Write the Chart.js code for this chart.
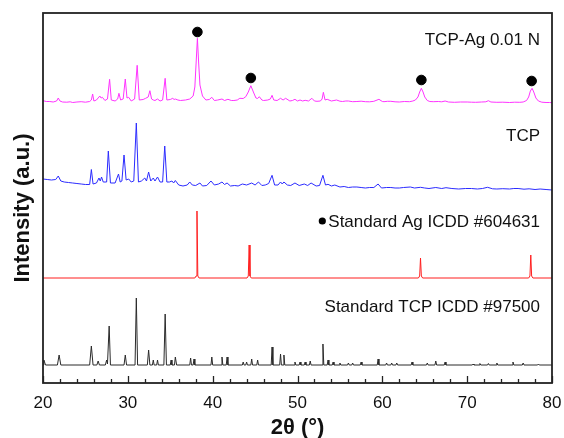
<!DOCTYPE html>
<html>
<head>
<meta charset="utf-8">
<script src="https://cdn.jsdelivr.net/npm/chart.js@4"></script>
<style>
  html, body { margin: 0; padding: 0; background: #fff; }
  canvas { display: block; }
</style>
</head>
<body>
<canvas id="xrd" width="564" height="438"></canvas>
<script>
// 2θ range and x tick labels
const xTicks = [20, 30, 40, 50, 60, 70, 80];

// vertical offset of each pattern (a.u.), bottom to top
const offsetStdTcp = 18;
const offsetStdAg = 105;
const offsetTcp = 193;
const offsetTcpAg = 280;

// Standard TCP ICDD #97500  [2θ, intensity]
const stdTcp = [
  [20, 0], [20.1, 5], [20.3, 0], [21.7, 0], [21.9, 10], [22.1, 0],
  [25.5, 0], [25.7, 19], [25.9, 0], [26.35, 0], [26.5, 4], [26.65, 0], [27.35, 0], [27.5, 5], [27.6, 1], [27.8, 39], [27.95, 0],
  [29.55, 0], [29.7, 10], [29.85, 0], [30.85, 0], [31.0, 67], [31.15, 0],
  [32.3, 0], [32.45, 15], [32.6, 0], [32.9, 0], [33.0, 5], [33.1, 0], [33.4, 0], [33.5, 5], [33.6, 0],
  [34.25, 0], [34.4, 51], [34.55, 0], [35.0, 0], [35.1, 5], [35.2, 0], [35.5, 0], [35.6, 8], [35.75, 0],
  [37.3, 0], [37.4, 7], [37.5, 0], [37.7, 0], [37.8, 6], [37.9, 0],
  [39.8, 0], [39.9, 8], [40.0, 0], [41.0, 0], [41.1, 8], [41.2, 0], [41.6, 0], [41.7, 8], [41.8, 0],
  [43.5, 0], [43.6, 3], [43.7, 0], [43.9, 0], [44.0, 3], [44.1, 0], [44.5, 0], [44.6, 6], [44.7, 0], [45.2, 0], [45.3, 5], [45.4, 0],
  [46.9, 0], [47.0, 18], [47.1, 0], [47.9, 0], [48.0, 11], [48.1, 0], [48.3, 0], [48.4, 10], [48.5, 0],
  [49.6, 0], [49.7, 3], [49.8, 0], [50.2, 0], [50.3, 3], [50.4, 0], [50.8, 0], [50.9, 3], [51.0, 0], [51.4, 0], [51.5, 4], [51.6, 0],
  [52.9, 0], [53.0, 21], [53.1, 0], [53.5, 0], [53.6, 5], [53.7, 0], [54.1, 0], [54.2, 3], [54.3, 0],
  [54.9, 0], [55.0, 2], [55.1, 0], [55.9, 0], [56.0, 2], [56.1, 0], [56.4, 0], [56.5, 2], [56.6, 0], [57.4, 0], [57.5, 3], [57.6, 0],
  [59.4, 0], [59.5, 6], [59.6, 0], [60.4, 0], [60.5, 2], [60.6, 0], [61.0, 0], [61.1, 2], [61.2, 0], [61.6, 0], [61.7, 2], [61.8, 0],
  [63.4, 0], [63.5, 3], [63.6, 0], [65.2, 0], [65.3, 2], [65.4, 0], [66.2, 0], [66.3, 4], [66.4, 0], [67.3, 0], [67.4, 3], [67.5, 0],
  [70.6, 0], [70.7, 1], [70.8, 0], [71.4, 0], [71.5, 1.5], [71.6, 0], [72.4, 0], [72.5, 1.5], [72.6, 0], [73.4, 0], [73.5, 2], [73.6, 0],
  [75.3, 0], [75.4, 3], [75.5, 0], [76.5, 0], [76.6, 2], [76.7, 0], [78.3, 0], [78.4, 1], [78.5, 0], [80, 0]
];

// Standard Ag ICDD #604631
const stdAg = [
  [20, 0], [37.9, 0], [38.05, 2], [38.15, 67], [38.25, 2], [38.4, 0],
  [44.05, 0], [44.2, 2], [44.3, 33], [44.4, 2], [44.55, 0],
  [64.25, 0], [64.4, 2], [64.5, 20], [64.6, 2], [64.75, 0],
  [77.25, 0], [77.4, 2], [77.5, 23], [77.6, 2], [77.75, 0], [80, 0]
];

// measured TCP
const tcp = [
  [20, 11], [20.5, 10.5], [21.0, 10], [21.5, 10.5], [21.8, 14], [22.1, 9], [22.5, 8], [23.0, 7.5], [23.5, 7], [24.0, 6.5], [24.5, 6], [25.0, 5.5],
  [25.5, 5.5], [25.7, 20.5], [25.9, 6], [26.3, 7], [26.6, 12], [26.75, 9], [26.9, 13], [27.1, 8], [27.5, 8], [27.7, 39], [27.95, 7],
  [28.5, 7], [28.9, 16], [29.1, 8], [29.3, 9], [29.55, 35], [29.8, 10], [30.1, 11], [30.4, 8], [30.7, 9], [31.0, 67], [31.25, 8],
  [31.6, 9], [32.0, 12], [32.2, 9], [32.45, 18], [32.7, 9], [33.0, 12], [33.2, 9], [33.5, 13], [33.8, 8], [34.1, 8], [34.35, 44], [34.6, 8],
  [34.9, 8], [35.2, 9], [35.4, 7], [35.6, 9.5], [36.0, 5], [36.5, 4], [37.0, 5], [37.3, 8], [37.6, 5], [38.0, 4.5], [38.5, 7], [38.8, 4],
  [39.3, 4.5], [39.8, 9], [40.2, 5], [40.7, 6], [41.1, 8], [41.4, 5.5], [41.7, 7], [42.1, 4], [42.6, 4.5], [43.0, 4], [43.5, 6], [44.0, 5],
  [44.6, 7], [45.0, 5], [45.4, 8], [45.8, 4.5], [46.2, 5], [46.6, 6.5], [47.0, 14.7], [47.3, 5], [47.7, 5], [48.0, 8], [48.2, 6], [48.4, 8],
  [48.8, 5], [49.2, 4.5], [49.7, 7], [50.2, 4.5], [50.8, 6], [51.2, 4.5], [51.6, 7], [52.2, 4], [52.6, 4.5], [53.0, 14.7], [53.3, 5], [53.6, 5.7],
  [54.0, 4], [54.4, 5], [55.0, 3], [55.5, 3.5], [56.0, 2.5], [56.5, 3], [57.0, 3], [57.5, 2.5], [58.0, 2], [58.5, 2.5], [59.0, 2.5], [59.5, 6],
  [59.9, 2], [60.5, 2.5], [61.0, 2.5], [61.5, 2], [62.0, 2], [62.5, 2.5], [63.3, 3], [63.8, 2], [64.5, 2.7], [65.0, 2], [65.5, 1.5], [66.3, 2.5],
  [67.0, 1.5], [67.5, 2.3], [68.2, 1.5], [69.0, 1], [69.8, 1.5], [70.5, 1.5], [71.2, 1], [71.8, 1.5], [72.4, 2.7], [73.0, 1.2], [73.5, 1],
  [74.2, 1.3], [75.0, 1], [75.5, 1.5], [76.0, 1.5], [76.7, 0.8], [77.3, 1.2], [78.0, 0.5], [78.6, 1], [79.3, 0.5], [80, 0]
];

// measured TCP-Ag 0.01 N
const tcpAg = [
  [20, 2.3], [20.4, 1.5], [20.8, 1.5], [21.2, 1], [21.6, 2], [21.8, 5], [22.0, 2], [22.3, 1], [22.8, 0.8], [23.2, 1.2], [23.5, 0.5], [24.0, 1],
  [24.5, 1.3], [25.0, 0.8], [25.5, 1.5], [25.7, 3], [25.85, 9], [26.0, 2], [26.3, 3], [26.7, 7], [26.85, 5], [27.0, 5.7], [27.3, 2.5], [27.6, 4],
  [27.85, 23.7], [28.05, 3], [28.5, 2], [28.8, 4], [28.95, 9.7], [29.15, 3], [29.45, 4], [29.7, 24], [29.9, 5], [30.1, 5.7], [30.4, 2], [30.8, 4],
  [31.1, 37.7], [31.35, 3], [31.8, 3.5], [32.1, 4.7], [32.4, 6], [32.6, 12.3], [32.8, 4], [33.0, 3], [33.2, 2.5], [33.5, 4], [33.8, 2], [34.1, 3],
  [34.4, 24.7], [34.6, 3], [35.0, 3.5], [35.3, 4.7], [35.45, 3.5], [35.6, 4], [35.9, 3], [36.2, 2.5], [36.8, 3], [37.3, 4], [37.7, 7], [37.9, 16],
  [38.05, 40], [38.2, 64.7], [38.35, 40], [38.5, 18], [38.8, 7], [39.2, 3], [39.6, 3.5], [39.9, 5.7], [40.2, 2.5], [40.6, 3], [41.1, 4], [41.4, 2.5],
  [41.8, 3.7], [42.2, 2.5], [42.5, 2.5], [42.9, 3], [43.2, 4.7], [43.6, 4.5], [43.9, 6.3], [44.2, 11], [44.5, 17.3], [44.8, 11], [45.1, 5], [45.3, 4.5],
  [45.5, 6.3], [45.8, 3], [46.0, 2.5], [46.5, 3], [46.8, 4], [47.0, 7.7], [47.2, 3], [47.6, 2.5], [48.0, 4.7], [48.3, 3], [48.6, 4.7], [49.1, 2],
  [49.4, 2.5], [49.7, 3.7], [50.0, 2], [50.3, 3], [50.6, 2], [50.9, 2.7], [51.3, 2], [51.7, 4.7], [52.0, 2], [52.3, 1.7], [52.7, 2], [52.9, 4],
  [53.05, 10.7], [53.25, 3], [53.5, 3.7], [54.0, 2], [54.3, 2.5], [54.6, 3], [55.0, 1.8], [55.3, 1.5], [55.7, 2], [56.0, 2], [56.5, 1.3], [57.0, 1.5],
  [57.5, 1.8], [58.0, 1.3], [58.5, 1.2], [59.0, 1.7], [59.6, 3.7], [60.0, 1.5], [60.2, 1.3], [60.6, 1.7], [61.0, 1.7], [61.5, 1.2], [62.0, 1], [62.6, 1.5],
  [63.2, 1.3], [63.6, 2], [63.9, 3], [64.2, 6], [64.4, 11], [64.6, 14.7], [64.8, 11], [65.0, 6], [65.3, 2.5], [65.6, 1.5], [66.0, 1.3], [66.6, 1.5],
  [67.0, 1.2], [67.4, 2], [67.8, 1], [68.5, 0.7], [69.2, 1], [70.0, 1], [70.5, 0.8], [71.0, 0.7], [71.7, 1], [72.2, 1.2], [72.5, 2.3], [72.8, 1],
  [73.5, 0.7], [74.2, 0.8], [75.0, 0.5], [75.6, 0.8], [76.2, 0.7], [76.6, 1], [77.0, 2.5], [77.25, 6], [77.45, 12], [77.65, 14.7], [77.85, 11],
  [78.1, 5], [78.4, 2], [78.8, 0.8], [79.3, 0.5], [79.7, 0.5], [80, 0.3]
];

// Ag reflections marked with a dot above the TCP-Ag pattern
const agMarkX = [38.2, 44.5, 64.6, 77.6];
const agMarkY = [351, 305, 303, 302];

const seriesNames = ['Standard TCP ICDD #97500', 'Standard Ag ICDD #604631', 'TCP', 'TCP-Ag 0.01 N'];
const yTitle = 'Intensity (a.u.)';

function shifted(points, offset) {
  return points.map(p => ({ x: p[0], y: p[1] + offset }));
}

const FONT = 'Arial, "Liberation Sans", sans-serif';

// series name labels, y title, inward tick marks and the box round the plot
const decorPlugin = {
  id: 'decor',
  afterDraw(chart) {
    const { ctx, chartArea: a, scales: { x } } = chart;
    ctx.save();

    // inward ticks on the bottom axis
    ctx.strokeStyle = '#222';
    ctx.lineWidth = 1.3;
    for (let v = 20; v <= 80; v += 2) {
      const px = Math.round(x.getPixelForValue(v)) + 0.5;
      const len = v % 10 === 0 ? 7 : 4;
      ctx.beginPath();
      ctx.moveTo(px, a.bottom);
      ctx.lineTo(px, a.bottom - len);
      ctx.stroke();
    }

    // frame
    ctx.lineWidth = 1.8;
    ctx.strokeStyle = '#222';
    ctx.strokeRect(a.left, a.top, a.right - a.left, a.bottom - a.top);

    // y title (sits a little below the middle of the axis)
    ctx.save();
    ctx.translate(23, a.top + 195);
    ctx.rotate(-Math.PI / 2);
    ctx.font = 'bold 22px ' + FONT;
    ctx.fillStyle = '#111';
    ctx.textAlign = 'center';
    ctx.textBaseline = 'middle';
    ctx.fillText(yTitle, 0, 0);
    ctx.restore();

    // series names, right aligned
    ctx.font = '17px ' + FONT;
    ctx.fillStyle = '#111';
    ctx.textAlign = 'right';
    ctx.textBaseline = 'middle';
    const right = a.right - 12;
    const rows = [a.top + 294, a.top + 209, a.top + 123, a.top + 27];
    seriesNames.forEach((name, i) => {
      ctx.fillText(name, right, rows[i]);
    });
    // dot key in front of the Ag standard label
    const w = ctx.measureText(seriesNames[1]).width;
    ctx.beginPath();
    ctx.arc(right - w - 6, rows[1] - 1, 3.6, 0, Math.PI * 2);
    ctx.fillStyle = '#000';
    ctx.fill();

    ctx.restore();
  }
};

new Chart(document.getElementById('xrd'), {
  type: 'line',
  data: {
    datasets: [
      { label: seriesNames[0], data: shifted(stdTcp, offsetStdTcp), borderColor: '#2a2a2a', borderWidth: 1 },
      { label: seriesNames[1], data: shifted(stdAg, offsetStdAg), borderColor: '#ff1f1f', borderWidth: 1 },
      { label: seriesNames[2], data: shifted(tcp, offsetTcp), borderColor: '#2b2bff', borderWidth: 1 },
      { label: seriesNames[3], data: shifted(tcpAg, offsetTcpAg), borderColor: '#ff33ff', borderWidth: 1 },
      {
        type: 'scatter',
        label: 'Ag',
        data: agMarkX.map((v, i) => ({ x: v, y: agMarkY[i] })),
        pointRadius: 4.8,
        pointBackgroundColor: '#000',
        pointBorderColor: '#000',
        showLine: false
      }
    ]
  },
  options: {
    responsive: false,
    animation: false,
    devicePixelRatio: 1,
    layout: { padding: { top: 13, right: 12, left: 0, bottom: 0 } },
    elements: { point: { radius: 0 }, line: { tension: 0 } },
    plugins: { legend: { display: false }, tooltip: { enabled: false } },
    scales: {
      x: {
        type: 'linear',
        min: 20,
        max: 80,
        afterBuildTicks: scale => { scale.ticks = xTicks.map(v => ({ value: v })); },
        afterFit: scale => {
          scale.height = 55;
          scale.paddingLeft = 0;
          scale.paddingRight = 0;
        },
        grid: { display: false, drawTicks: false },
        border: { display: false },
        ticks: { padding: 10, color: '#111', font: { size: 17, family: FONT } },
        title: {
          display: true,
          text: '2θ (°)',
          color: '#111',
          padding: { top: 0, bottom: 0 },
          font: { size: 22, weight: 'bold', lineHeight: 0.9, family: FONT }
        }
      },
      y: {
        min: 0,
        max: 370,
        afterFit: scale => { scale.width = 43; },
        grid: { display: false, drawTicks: false },
        border: { display: false },
        ticks: { display: false }
      }
    }
  },
  plugins: [decorPlugin]
});
</script>
</body>
</html>
